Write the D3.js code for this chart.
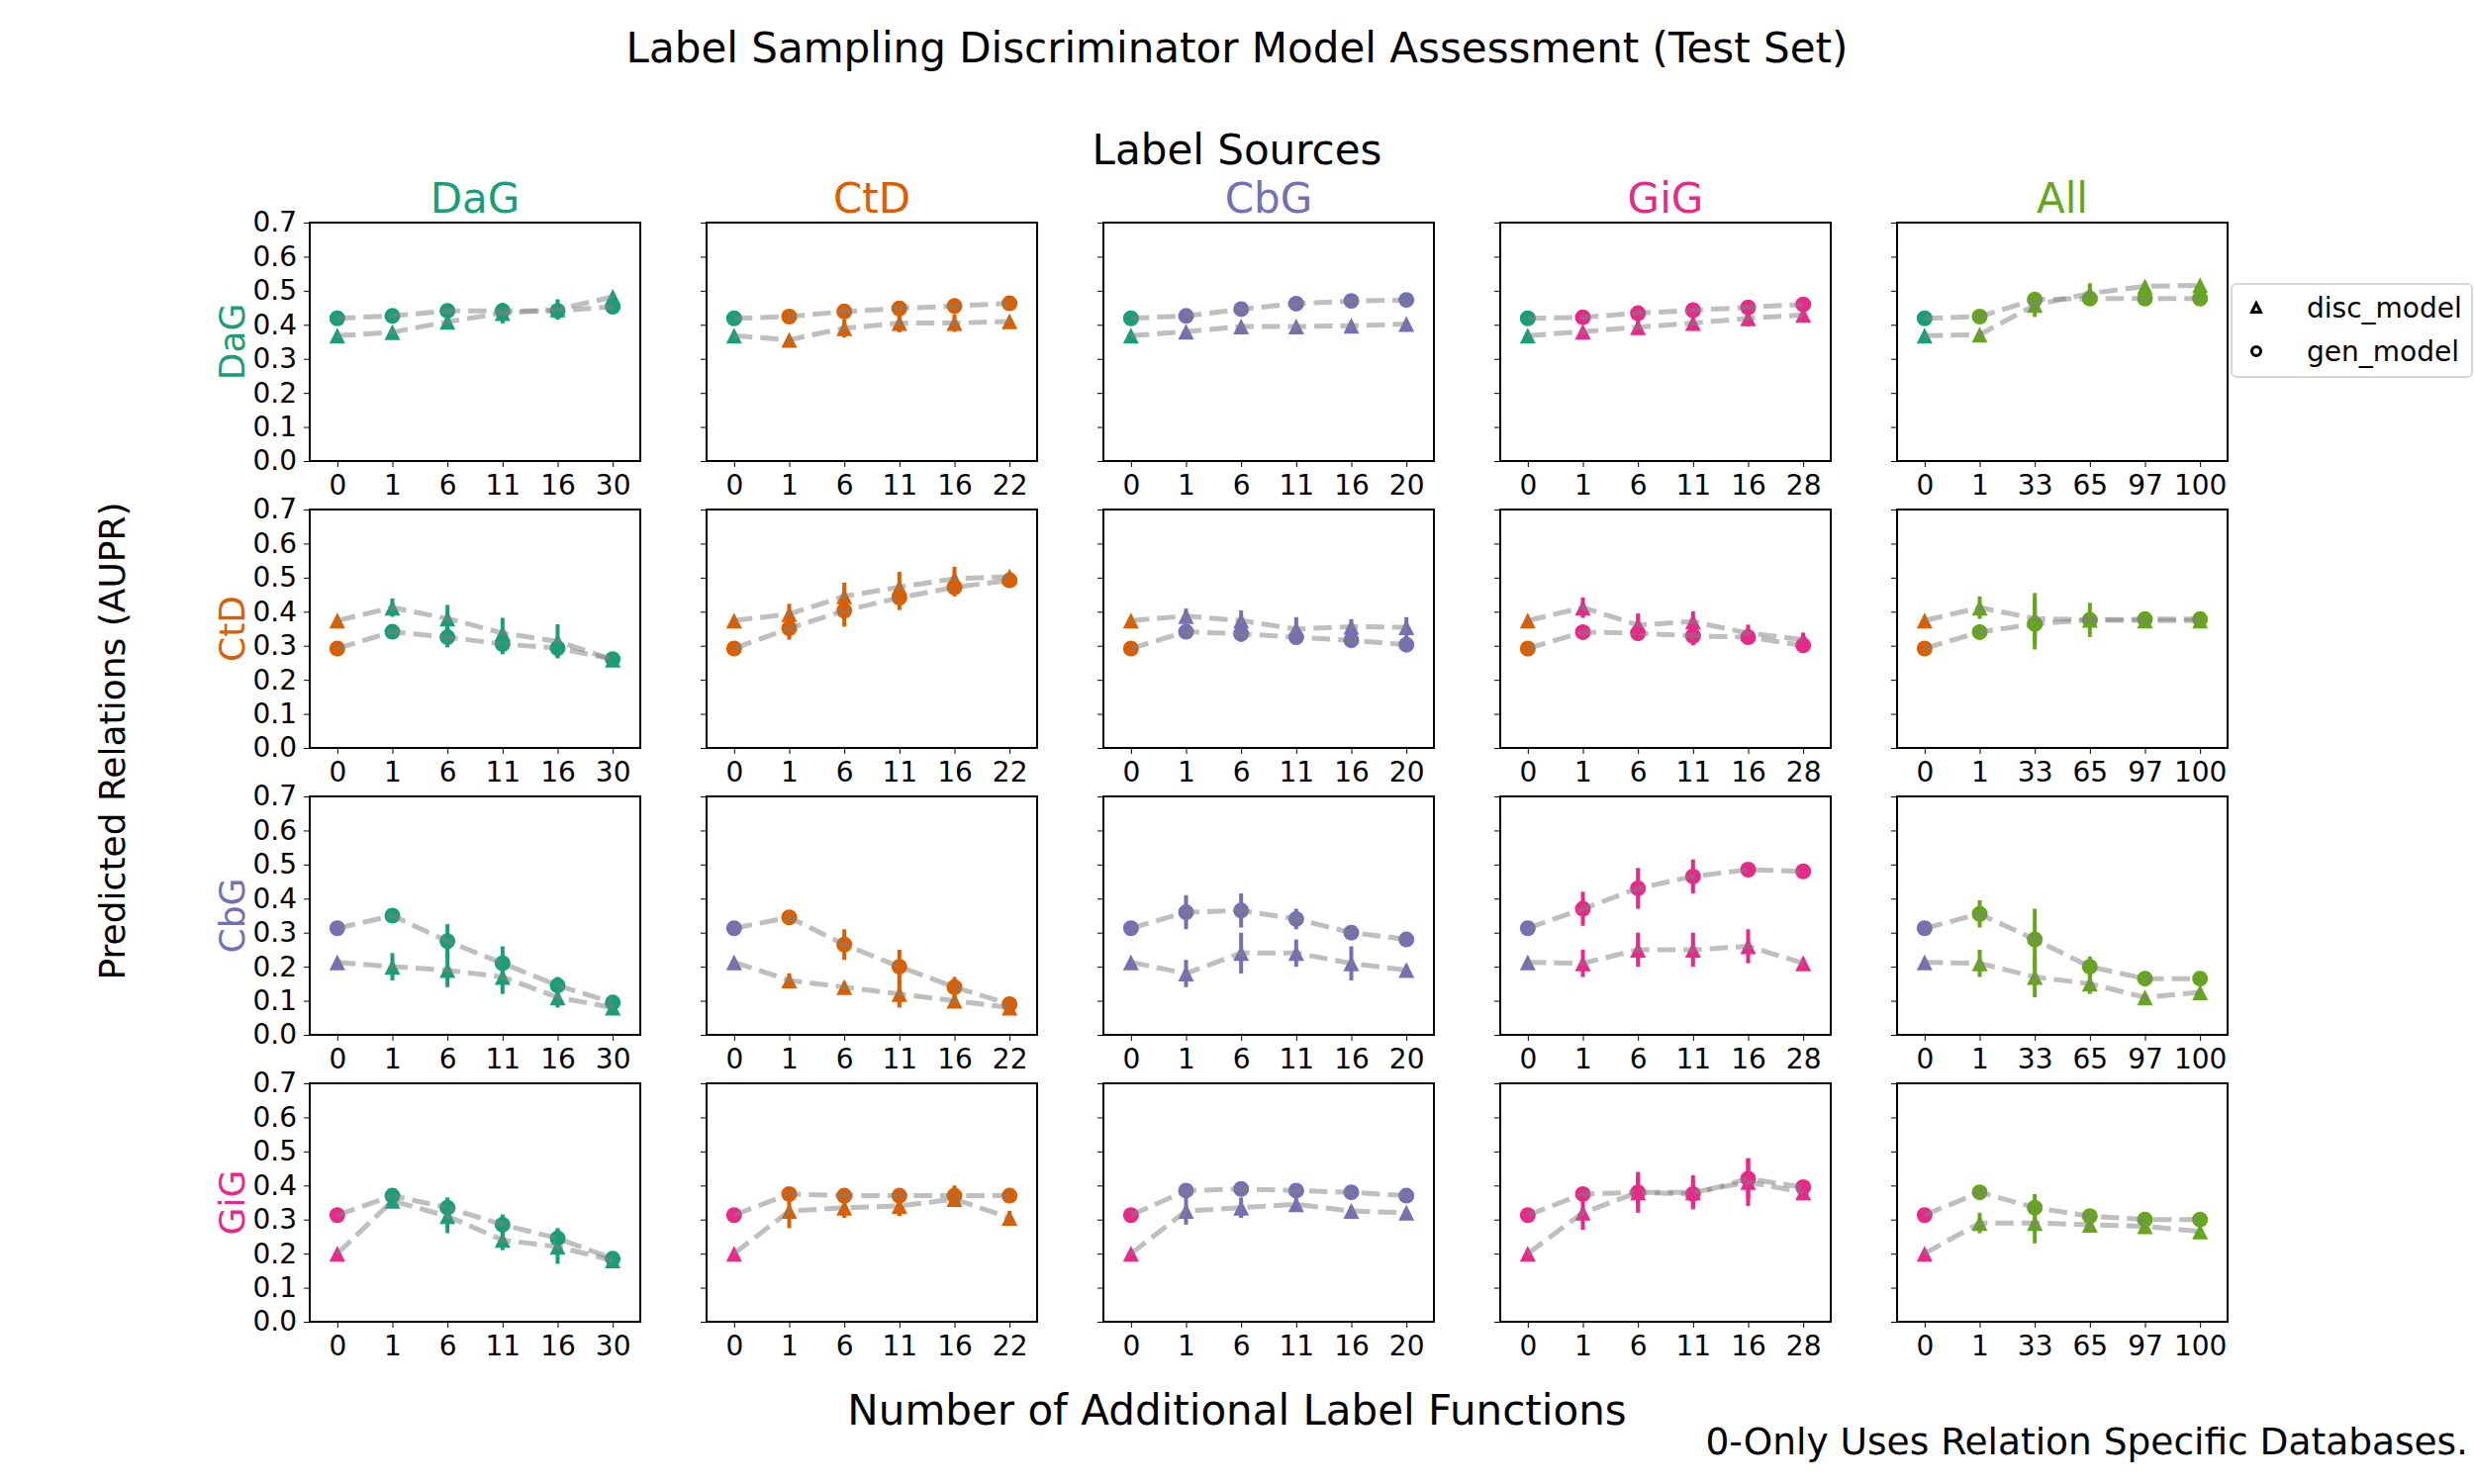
<!DOCTYPE html>
<html>
<head>
<meta charset="utf-8">
<script src="https://cdn.jsdelivr.net/npm/d3@7"></script>
<style>
  body { margin: 0; background: #fff; }
  text { font-family: 'DejaVu Sans', sans-serif; }
</style>
</head>
<body>
<svg id="chart" width="2500" height="1500"></svg>
<script>
// relation used for the evaluation (rows) and label source (columns)
const rowRelations = ['DaG', 'CtD', 'CbG', 'GiG'];
const labelSources = ['DaG', 'CtD', 'CbG', 'GiG', 'All'];
const relationColors = ['#1b9e77', '#d95f02', '#7570b3', '#e7298a', '#66a61e'];

// x tick labels per label-source column
const tickLabels = [
  ['0', '1', '6', '11', '16', '30'],
  ['0', '1', '6', '11', '16', '22'],
  ['0', '1', '6', '11', '16', '20'],
  ['0', '1', '6', '11', '16', '28'],
  ['0', '1', '33', '65', '97', '100']
];
const yTicks = [0, 0.1, 0.2, 0.3, 0.4, 0.5, 0.6, 0.7];

// disc_model AUPR, [row][column][point]
const discMean = [
  [[0.368, 0.378, 0.409, 0.434, 0.445, 0.482],
   [0.368, 0.356, 0.390, 0.405, 0.405, 0.410],
   [0.368, 0.380, 0.395, 0.395, 0.397, 0.402],
   [0.368, 0.380, 0.393, 0.405, 0.419, 0.429],
   [0.368, 0.371, 0.458, 0.492, 0.513, 0.516]],
  [[0.374, 0.412, 0.380, 0.337, 0.313, 0.259],
   [0.374, 0.393, 0.445, 0.472, 0.497, 0.503],
   [0.374, 0.387, 0.374, 0.349, 0.356, 0.354],
   [0.374, 0.412, 0.361, 0.371, 0.337, 0.318],
   [0.374, 0.412, 0.380, 0.376, 0.374, 0.374]],
  [[0.213, 0.200, 0.190, 0.170, 0.110, 0.080],
   [0.213, 0.160, 0.140, 0.120, 0.100, 0.080],
   [0.213, 0.180, 0.240, 0.240, 0.210, 0.190],
   [0.213, 0.210, 0.250, 0.250, 0.260, 0.210],
   [0.213, 0.210, 0.170, 0.150, 0.110, 0.125]],
  [[0.200, 0.355, 0.310, 0.240, 0.220, 0.180],
   [0.200, 0.325, 0.335, 0.340, 0.360, 0.305],
   [0.200, 0.325, 0.335, 0.345, 0.325, 0.320],
   [0.200, 0.320, 0.380, 0.380, 0.410, 0.380],
   [0.200, 0.290, 0.290, 0.285, 0.280, 0.265]]
];
const discErr = [
  [[0, 0.008, 0.020, 0.030, 0.030, 0.010],
   [0, 0.006, 0.027, 0.027, 0.026, 0.008],
   [0, 0.008, 0.010, 0.012, 0.010, 0.006],
   [0, 0.010, 0.020, 0.022, 0.024, 0.010],
   [0, 0.006, 0.035, 0.030, 0.012, 0.010]],
  [[0, 0.027, 0.040, 0.045, 0.050, 0.008],
   [0, 0.030, 0.040, 0.045, 0.035, 0.010],
   [0, 0.022, 0.030, 0.035, 0.022, 0.030],
   [0, 0.030, 0.034, 0.030, 0.025, 0.020],
   [0, 0.033, 0.075, 0.050, 0.010, 0.008]],
  [[0, 0.040, 0.050, 0.050, 0.030, 0.010],
   [0, 0.020, 0.015, 0.040, 0.015, 0.010],
   [0, 0.040, 0.060, 0.040, 0.050, 0.015],
   [0, 0.040, 0.050, 0.050, 0.050, 0.015],
   [0, 0.040, 0.060, 0.030, 0.010, 0.010]],
  [[0, 0.020, 0.050, 0.030, 0.050, 0.010],
   [0, 0.050, 0.030, 0.030, 0.020, 0.020],
   [0, 0.040, 0.030, 0.020, 0.015, 0.010],
   [0, 0.050, 0.060, 0.050, 0.070, 0.020],
   [0, 0.030, 0.060, 0.015, 0.010, 0.010]]
];

// gen_model AUPR, [row][column][point]
const genMean = [
  [[0.419, 0.426, 0.441, 0.441, 0.441, 0.453],
   [0.419, 0.424, 0.439, 0.448, 0.455, 0.463],
   [0.419, 0.426, 0.446, 0.462, 0.470, 0.473],
   [0.419, 0.422, 0.434, 0.443, 0.451, 0.460],
   [0.419, 0.424, 0.474, 0.477, 0.477, 0.477]],
  [[0.292, 0.341, 0.325, 0.305, 0.293, 0.261],
   [0.292, 0.351, 0.403, 0.441, 0.472, 0.492],
   [0.292, 0.341, 0.335, 0.325, 0.316, 0.303],
   [0.292, 0.340, 0.337, 0.329, 0.325, 0.301],
   [0.292, 0.340, 0.364, 0.376, 0.378, 0.378]],
  [[0.313, 0.350, 0.275, 0.210, 0.145, 0.095],
   [0.313, 0.345, 0.265, 0.200, 0.140, 0.090],
   [0.313, 0.360, 0.365, 0.340, 0.300, 0.280],
   [0.313, 0.370, 0.430, 0.465, 0.485, 0.480],
   [0.313, 0.355, 0.280, 0.200, 0.165, 0.165]],
  [[0.313, 0.370, 0.335, 0.285, 0.245, 0.185],
   [0.313, 0.375, 0.370, 0.370, 0.370, 0.370],
   [0.313, 0.385, 0.390, 0.385, 0.380, 0.370],
   [0.313, 0.375, 0.380, 0.375, 0.420, 0.395],
   [0.313, 0.380, 0.335, 0.310, 0.300, 0.300]]
];
const genErr = [
  [[0, 0.008, 0.010, 0.012, 0.012, 0.008],
   [0, 0.006, 0.010, 0.010, 0.008, 0.006],
   [0, 0.006, 0.008, 0.008, 0.006, 0.006],
   [0, 0.006, 0.008, 0.010, 0.010, 0.006],
   [0, 0.008, 0.012, 0.010, 0.008, 0.008]],
  [[0, 0.010, 0.030, 0.030, 0.027, 0.008],
   [0, 0.033, 0.047, 0.036, 0.027, 0.010],
   [0, 0.010, 0.023, 0.022, 0.012, 0.010],
   [0, 0.010, 0.022, 0.028, 0.015, 0.010],
   [0, 0.022, 0.075, 0.020, 0.010, 0.008]],
  [[0, 0.020, 0.050, 0.050, 0.025, 0.010],
   [0, 0.010, 0.045, 0.050, 0.030, 0.010],
   [0, 0.050, 0.050, 0.030, 0.015, 0.010],
   [0, 0.050, 0.060, 0.050, 0.020, 0.010],
   [0, 0.040, 0.090, 0.030, 0.010, 0.010]],
  [[0, 0.015, 0.030, 0.030, 0.030, 0.010],
   [0, 0.010, 0.010, 0.010, 0.030, 0.010],
   [0, 0.010, 0.010, 0.010, 0.010, 0.010],
   [0, 0.015, 0.050, 0.040, 0.060, 0.015],
   [0, 0.010, 0.040, 0.010, 0.010, 0.010]]
];

const svg = d3.select('#chart');

const panel = { left: 313, top: 225, colStep: 401, rowStep: 290, width: 334, height: 241 };

const y = d3.scaleLinear().domain([0, 0.7]).range([panel.height, 0]);

const trianglePath = s => `M0,${-s / 2}L${-s / 2},${s / 2}L${s / 2},${s / 2}Z`;

function drawSeries(g, x, labels, means, errs, rowColor, colColor, shape) {
  const pts = labels.map((lab, i) => ({
    x: x(lab),
    y: y(means[i]),
    lo: y(means[i] - errs[i]),
    hi: y(means[i] + errs[i]),
    color: i === 0 ? rowColor : colColor
  }));

  g.append('g')
    .selectAll('line')
    .data(pts.filter(d => d.lo - d.hi > 0.5))
    .join('line')
    .attr('x1', d => d.x)
    .attr('x2', d => d.x)
    .attr('y1', d => d.lo)
    .attr('y2', d => d.hi)
    .attr('stroke', d => d.color)
    .attr('stroke-width', 4);

  const marks = g.append('g').selectAll('path').data(pts).join('path');
  if (shape === 'triangle') {
    marks.attr('d', trianglePath(16));
  } else {
    marks.attr('d', d3.symbol(d3.symbolCircle, Math.PI * 8 * 8)());
  }
  marks
    .attr('transform', d => `translate(${d.x},${d.y})`)
    .attr('fill', d => d.color);

  g.append('path')
    .datum(pts)
    .attr('fill', 'none')
    .attr('stroke', '#808080')
    .attr('stroke-opacity', 0.5)
    .attr('stroke-width', 5)
    .attr('stroke-dasharray', '18.5,8')
    .attr('d', d3.line(d => d.x, d => d.y));
}

rowRelations.forEach((rowName, r) => {
  labelSources.forEach((colName, c) => {
    const labels = tickLabels[c];
    const x = d3.scalePoint().domain(labels).range([0, panel.width]).padding(0.5);

    const g = svg.append('g')
      .attr('transform', `translate(${panel.left + c * panel.colStep},${panel.top + r * panel.rowStep})`);

    g.append('g')
      .attr('transform', `translate(0,${panel.height})`)
      .call(d3.axisBottom(x).tickSize(6).tickPadding(8))
      .call(a => a.select('.domain').remove())
      .selectAll('text')
      .attr('font-size', 28)
      .attr('fill', '#000');

    const yAxis = g.append('g')
      .call(d3.axisLeft(y).tickValues(yTicks).tickSize(6).tickPadding(7).tickFormat(d3.format('.1f')));
    yAxis.select('.domain').remove();
    yAxis.selectAll('text').attr('font-size', 28).attr('fill', '#000');
    if (c > 0) yAxis.selectAll('text').remove();

    g.append('rect')
      .attr('width', panel.width)
      .attr('height', panel.height)
      .attr('fill', 'none')
      .attr('stroke', '#000')
      .attr('stroke-width', 2);

    drawSeries(g, x, labels, genMean[r][c], genErr[r][c], relationColors[r], relationColors[c], 'circle');
    drawSeries(g, x, labels, discMean[r][c], discErr[r][c], relationColors[r], relationColors[c], 'triangle');

    if (r === 0) {
      g.append('text')
        .attr('x', panel.width / 2)
        .attr('y', -10)
        .attr('text-anchor', 'middle')
        .attr('font-size', 42)
        .attr('fill', relationColors[c])
        .text(colName);
    }
  });

  svg.append('text')
    .attr('transform', `translate(247,${panel.top + r * panel.rowStep + panel.height / 2}) rotate(-90)`)
    .attr('text-anchor', 'middle')
    .attr('font-size', 36)
    .attr('fill', relationColors[r])
    .text(rowName);
});

svg.append('text')
  .attr('x', 1250).attr('y', 63)
  .attr('text-anchor', 'middle')
  .attr('font-size', 42)
  .text('Label Sampling Discriminator Model Assessment (Test Set)');

svg.append('text')
  .attr('x', 1250).attr('y', 166)
  .attr('text-anchor', 'middle')
  .attr('font-size', 42)
  .text('Label Sources');

svg.append('text')
  .attr('x', 1250).attr('y', 1440)
  .attr('text-anchor', 'middle')
  .attr('font-size', 42)
  .text('Number of Additional Label Functions');

svg.append('text')
  .attr('x', 2494).attr('y', 1470)
  .attr('text-anchor', 'end')
  .attr('font-size', 37.5)
  .text('0-Only Uses Relation Specific Databases.');

svg.append('text')
  .attr('transform', 'translate(126,749) rotate(-90)')
  .attr('text-anchor', 'middle')
  .attr('font-size', 36)
  .text('Predicted Relations (AUPR)');

// legend
const legendItems = ['disc_model', 'gen_model'];
const legend = svg.append('g').attr('transform', 'translate(2255,287)');
legend.append('rect')
  .attr('width', 243)
  .attr('height', 94)
  .attr('rx', 5)
  .attr('fill', '#fff')
  .attr('fill-opacity', 0.8)
  .attr('stroke', '#d6d6d6')
  .attr('stroke-width', 2);

const item = legend.selectAll('g.item')
  .data(legendItems)
  .join('g')
  .attr('class', 'item')
  .attr('transform', (d, i) => `translate(25,${24 + i * 44})`);

item.append('path')
  .attr('d', (d, i) => i === 0 ? trianglePath(9) : d3.symbol(d3.symbolCircle, Math.PI * 4.5 * 4.5)())
  .attr('fill', '#fff')
  .attr('stroke', '#000')
  .attr('stroke-width', 3);

item.append('text')
  .attr('x', 51)
  .attr('y', 10)
  .attr('font-size', 28)
  .text(d => d);
</script>
</body>
</html>
